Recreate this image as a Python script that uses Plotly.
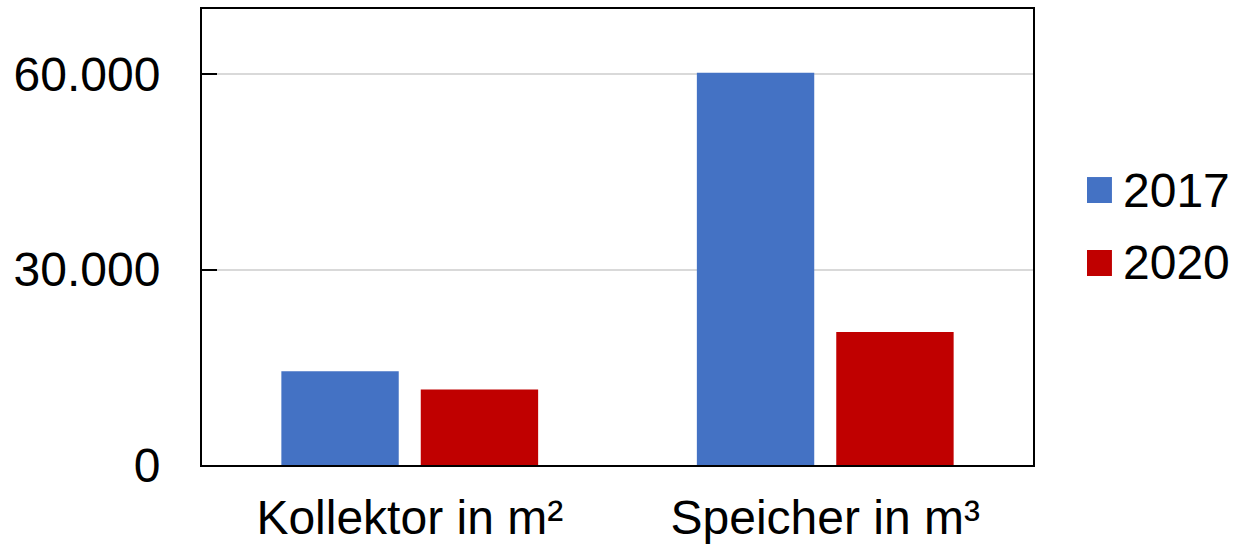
import plotly.graph_objects as go

categories = ["Kollektor in m²", "Speicher in m³"]
series_names = ["2017", "2020"]
values_2017 = [14400, 60200]
values_2020 = [11600, 20400]
colors = ["#4472C4", "#C00000"]
y_ticks = [0, 30000, 60000]

FONT = "Liberation Sans, Arial, sans-serif"
FS = 48

fig = go.Figure()
for name, vals, col in zip(series_names, [values_2017, values_2020], colors):
    fig.add_trace(go.Bar(x=categories, y=vals, name=name,
                         marker=dict(color=col, line=dict(width=0)),
                         showlegend=False))

# manual legend (large square swatches)
legend_y = [0.603, 0.443]
for name, col, ly in zip(series_names, colors, legend_y):
    fig.add_shape(type="rect", xref="paper", yref="paper",
                  x0=1.065, x1=1.095, y0=ly - 0.0285, y1=ly + 0.0285,
                  fillcolor=col, line=dict(width=0))
    fig.add_annotation(text=name, xref="paper", yref="paper",
                       x=1.106, y=ly, xanchor="left", yanchor="middle",
                       showarrow=False, font=dict(family=FONT, size=FS, color="black"))

fig.update_layout(
    width=1233, height=545,
    margin=dict(l=202, r=200, t=9, b=80),
    paper_bgcolor="white", plot_bgcolor="white",
    barmode="group", bargap=0.329, bargroupgap=0.158,
    separators=",.",
    font=dict(family=FONT, size=FS, color="black"),
)
fig.update_xaxes(showline=True, linecolor="black", linewidth=2, mirror=True,
                 ticks="", showgrid=False, automargin=False,
                 ticklabelstandoff=9,
                 tickfont=dict(family=FONT, size=FS, color="black"))
fig.update_yaxes(range=[0, 70000], tickvals=y_ticks, tickformat=",.0f",
                 showline=True, linecolor="black", linewidth=2, mirror=True,
                 ticks="inside", ticklen=15, tickwidth=2, tickcolor="black",
                 showgrid=True, gridcolor="#d9d9d9", gridwidth=2,
                 zeroline=False, ticklabelstandoff=30, automargin=False,
                 tickfont=dict(family=FONT, size=FS, color="black"))

fig.write_html("out.html",
               config={"displayModeBar": False},
               post_script="document.body.style.margin='0';document.body.style.padding='0';")
